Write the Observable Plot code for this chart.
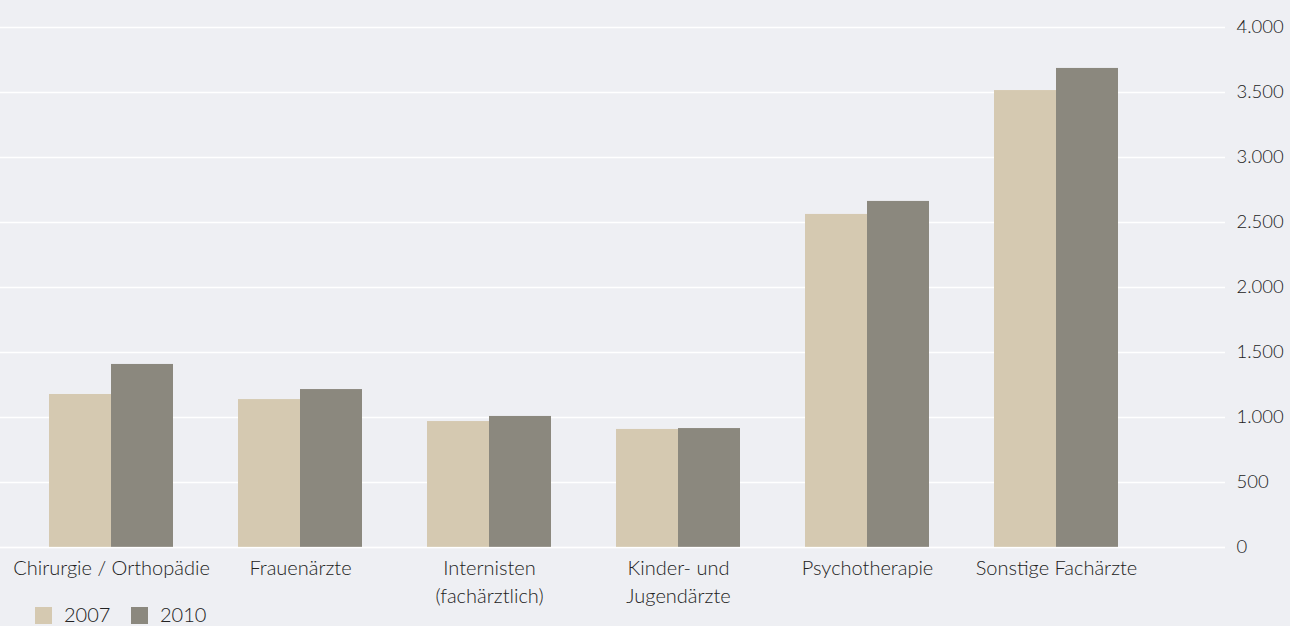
<!DOCTYPE html>
<html>
<head>
<meta charset="utf-8">
<script src="https://cdn.jsdelivr.net/npm/d3@7"></script>
<script src="https://cdn.jsdelivr.net/npm/@observablehq/plot@0.6"></script>
<style>
  html, body { margin: 0; padding: 0; background: #eeeff3; }
  body { position: relative; width: 1290px; height: 626px; overflow: hidden; font-family: Lato, "Open Sans", sans-serif; font-weight: 300; color: #222; }
  #legend { position: absolute; left: 0; top: 600px; width: 300px; height: 26px; }
  .sw { position: absolute; top: 7px; width: 17px; height: 17px; }
  .lt { position: absolute; top: 1px; font-size: 20px; line-height: 26px; color: #222; font-weight: 300; }
  svg text { font-weight: 300; }
</style>
</head>
<body>
<div id="chart"></div>
<div id="legend"></div>
<script>
const categories = ["Chirurgie / Orthopädie", "Frauenärzte", "Internisten\n(fachärztlich)", "Kinder- und\nJugendärzte", "Psychotherapie", "Sonstige Fachärzte"];
const years = ["2007", "2010"];
const values2007 = [1177, 1138, 969, 908, 2562, 3515];
const values2010 = [1408, 1215, 1008, 915, 2662, 3685];
const yTicks = [0, 500, 1000, 1500, 2000, 2500, 3000, 3500, 4000];
const colors = ["#d5c9b1", "#8b887e"];

const data = [];
categories.forEach((c, i) => {
  data.push({category: c, year: years[0], value: values2007[i]});
  data.push({category: c, year: years[1], value: values2010[i]});
});

const de = d3.formatLocale({decimal: ",", thousands: ".", grouping: [3], currency: ["", " €"]});
const fmt = de.format(",");

const bw = 124;
const chart = Plot.plot({
  width: 1290,
  height: 626,
  marginTop: 27,
  marginBottom: 79,
  marginLeft: 0,
  marginRight: 65,
  style: {background: "transparent", fontFamily: "Lato, 'Open Sans', sans-serif", fontSize: "19px", color: "#222"},
  x: {domain: categories, paddingInner: 0.3446, paddingOuter: 0.41, align: 0.316, label: null},
  y: {domain: [0, 4000], label: null},
  marks: [
    Plot.ruleY(yTicks, {stroke: "#ffffff", strokeWidth: 1.3}),
    Plot.barY(data.filter(d => d.year === years[0]), {x: "category", y: "value", fill: colors[0], insetRight: bw / 2}),
    Plot.barY(data.filter(d => d.year === years[1]), {x: "category", y: "value", fill: colors[1], insetLeft: bw / 2}),
    Plot.ruleY([0], {stroke: "#ffffff", strokeOpacity: 0.6, strokeWidth: 1.3}),
    Plot.axisY({anchor: "right", ticks: yTicks, tickFormat: fmt, tickSize: 0, tickPadding: 11, fontSize: 18.5, fill: "#222", label: null}),
    Plot.axisX({anchor: "bottom", tickSize: 0, tickPadding: 8, fontSize: 20, fill: "#222", lineHeight: 1.4, label: null})
  ]
});
document.getElementById("chart").appendChild(chart);

const legend = document.getElementById("legend");
const swX = [35, 131];
const txX = [64, 160];
years.forEach((y, i) => {
  const s = document.createElement("div");
  s.className = "sw"; s.style.left = swX[i] + "px"; s.style.background = colors[i];
  legend.appendChild(s);
  const t = document.createElement("div");
  t.className = "lt"; t.style.left = txX[i] + "px"; t.textContent = y;
  legend.appendChild(t);
});
</script>
</body>
</html>
